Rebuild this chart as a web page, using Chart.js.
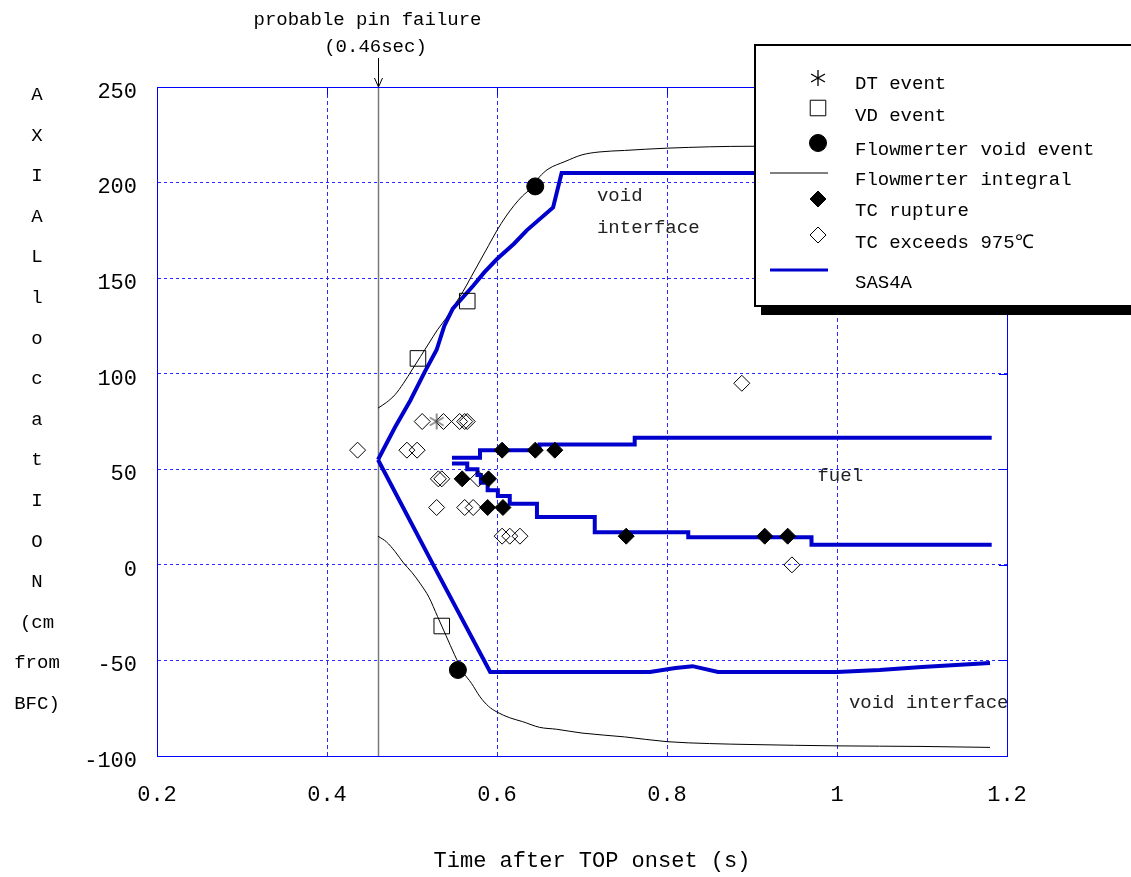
<!DOCTYPE html>
<html>
<head>
<meta charset="utf-8">
<title>Axial location vs time</title>
<script src="https://cdn.jsdelivr.net/npm/chart.js@4.4.0/dist/chart.umd.min.js"></script>
<style>
  html, body { margin: 0; padding: 0; background: #fff; }
  #wrap { width: 1131px; height: 877px; }
</style>
</head>
<body>
<div id="wrap"><canvas id="chart" width="1131" height="877"></canvas></div>
<script>
// Axes
const xTickValues = [0.2, 0.4, 0.6, 0.8, 1.0, 1.2];
const xTickLabels = ["0.2", "0.4", "0.6", "0.8", "1", "1.2"];
const yTickValues = [-100, -50, 0, 50, 100, 150, 200, 250];
const yTickLabels = ["-100", "-50", "0", "50", "100", "150", "200", "250"];

// Probable pin failure time (s)
const pinFailureTime = 0.46;

// Measured events: time (s) and axial location (cm from BFC)
const dtEventT = [0.529];
const dtEventZ = [75];
const vdEventT = [0.507, 0.565, 0.535];
const vdEventZ = [108, 138, -32];
const fmVoidT = [0.645, 0.554];
const fmVoidZ = [198, -55];
const tcRuptureT = [0.606, 0.645, 0.668, 0.559, 0.590, 0.589, 0.607, 0.752, 0.915, 0.942];
const tcRuptureZ = [60, 60, 60, 45, 45, 30, 30, 15, 15, 15];
const tcHotT = [0.436, 0.494, 0.506, 0.512, 0.537, 0.556, 0.562, 0.565,
                0.531, 0.535, 0.578, 0.529, 0.562, 0.572, 0.606, 0.615, 0.627, 0.888, 0.947];
const tcHotZ = [60, 60, 60, 75, 75, 75, 75, 75,
                45, 45, 45, 30, 30, 30, 15, 15, 15, 95, 0];

// Flowmeter integral, upper and lower void fronts
const fmUpperT = [0.46, 0.47, 0.48, 0.49, 0.50, 0.51, 0.52, 0.53, 0.54, 0.55, 0.56, 0.57, 0.58, 0.59,
                  0.60, 0.61, 0.62, 0.63, 0.64, 0.65, 0.66, 0.68, 0.70, 0.72, 0.75, 0.80, 0.90, 1.0, 1.1, 1.18];
const fmUpperZ = [82, 85, 89, 95, 102, 109, 116, 123, 129, 136, 143, 151, 159, 167,
                  175, 182, 188, 193, 197, 203, 207, 211, 214.5, 216, 216.8, 218, 219, 219, 219, 219];
const fmLowerT = [0.46, 0.47, 0.48, 0.49, 0.50, 0.51, 0.52, 0.53, 0.54, 0.55, 0.56, 0.57, 0.58, 0.59,
                  0.60, 0.615, 0.63, 0.65, 0.67, 0.70, 0.75, 0.80, 0.85, 0.90, 1.0, 1.1, 1.18];
const fmLowerZ = [15, 12, 7, 1, -4, -10, -17, -27, -37, -47, -56, -62, -69, -74,
                  -77, -80, -82, -85, -86, -88, -90, -92.5, -93.5, -94, -94.7, -95, -95.5];

// SAS4A calculation: void interfaces and fuel boundaries
const sasUpperT = [0.46, 0.48, 0.498, 0.515, 0.529, 0.538, 0.548, 0.56, 0.572, 0.585, 0.60, 0.62,
                   0.635, 0.666, 0.676, 1.18];
const sasUpperZ = [55, 72, 86, 101, 112.5, 125, 134, 140, 146, 153, 160, 168,
                   175, 187, 205, 205];
const sasLowerT = [0.46, 0.525, 0.592, 0.78, 0.81, 0.83, 0.86, 1.0, 1.05, 1.1, 1.18];
const sasLowerZ = [55, 0, -56, -56, -54, -53, -56, -56, -55, -53.5, -51.3];
const fuelTopT = [0.547, 0.58, 0.58, 0.65, 0.65, 0.762, 0.762, 1.182];
const fuelTopZ = [56, 56, 60, 60, 63, 63, 66.5, 66.5];
const fuelBottomT = [0.547, 0.565, 0.565, 0.577, 0.577, 0.581, 0.581, 0.589, 0.589, 0.601, 0.601,
                     0.615, 0.615, 0.647, 0.647, 0.715, 0.715, 0.825, 0.825, 0.97, 0.97, 1.182];
const fuelBottomZ = [53, 53, 50, 50, 47, 47, 43, 43, 39, 39, 36,
                     36, 32, 32, 25, 25, 17, 17, 14.5, 14.5, 10.5, 10.5];

const sasBlue = "#0000cd";
const gridBlue = "#2a2aff";
const FONT = "'Liberation Mono', 'DejaVu Sans Mono', monospace";

const zip = (t, z) => t.map((v, i) => ({ x: v, y: z[i] }));

// six-spoke asterisk used for the DT event marker
function makeAsterisk(color) {
  const c = document.createElement("canvas");
  c.width = 18; c.height = 18;
  const g = c.getContext("2d");
  g.strokeStyle = color;
  g.lineWidth = 1.3;
  g.beginPath();
  for (let k = 0; k < 3; k++) {
    const a = Math.PI / 2 + k * Math.PI / 3;
    g.moveTo(9 + 8 * Math.cos(a), 9 + 8 * Math.sin(a));
    g.lineTo(9 - 8 * Math.cos(a), 9 - 8 * Math.sin(a));
  }
  g.stroke();
  return c;
}
const asteriskGray = makeAsterisk("#555");
const asteriskBlack = makeAsterisk("#000");

const lineStyle = (color, width) => ({
  showLine: true, pointRadius: 0, pointHoverRadius: 0,
  borderColor: color, borderWidth: width, backgroundColor: color, fill: false, tension: 0
});

const datasets = [
  { label: "DT event", data: zip(dtEventT, dtEventZ), pointStyle: asteriskGray, pointRadius: 9 },
  { label: "VD event", data: zip(vdEventT, vdEventZ), pointStyle: "rect", pointRadius: 11,
    borderColor: "#000", backgroundColor: "rgba(0,0,0,0)", borderWidth: 1 },
  { label: "Flowmerter void event", data: zip(fmVoidT, fmVoidZ), pointStyle: "circle", pointRadius: 8.5,
    borderColor: "#000", backgroundColor: "#000", borderWidth: 1 },
  { label: "TC rupture", data: zip(tcRuptureT, tcRuptureZ), pointStyle: "rectRot", pointRadius: 8,
    borderColor: "#000", backgroundColor: "#000", borderWidth: 1 },
  { label: "TC exceeds 975℃", data: zip(tcHotT, tcHotZ), pointStyle: "rectRot", pointRadius: 8,
    borderColor: "#000", backgroundColor: "rgba(0,0,0,0)", borderWidth: 1 },
  { label: "SAS4A", data: zip(sasUpperT, sasUpperZ), ...lineStyle(sasBlue, 4) },
  { label: "SAS4A lower", data: zip(sasLowerT, sasLowerZ), ...lineStyle(sasBlue, 4) },
  { label: "SAS4A fuel top", data: zip(fuelTopT, fuelTopZ), ...lineStyle(sasBlue, 4) },
  { label: "SAS4A fuel bottom", data: zip(fuelBottomT, fuelBottomZ), ...lineStyle(sasBlue, 4) },
  { label: "Flowmerter integral", data: zip(fmUpperT, fmUpperZ), ...lineStyle("#000", 1),
    cubicInterpolationMode: "monotone" },
  { label: "Flowmerter integral lower", data: zip(fmLowerT, fmLowerZ), ...lineStyle("#000", 1),
    cubicInterpolationMode: "monotone" }
];

// legend rows: label, marker y, text y
const legendRows = [
  ["DT event", 78, 84],
  ["VD event", 108, 116],
  ["Flowmerter void event", 143, 150],
  ["Flowmerter integral", 173, 180],
  ["TC rupture", 199, 211],
  ["TC exceeds 975℃", 235, 243],
  ["SAS4A", 270, 283]
];

const yTitleLines = ["A", "X", "I", "A", "L", "l", "o", "c", "a", "t", "I", "O", "N", "(cm", "from", "BFC)"];

// text placed in data coordinates
const notes = [
  { text: "void", t: 0.7176, z: 193 },
  { text: "interface", t: 0.7176, z: 176 },
  { text: "fuel", t: 0.977, z: 46.5 },
  { text: "void interface", t: 1.014, z: -72 }
];

const decorations = {
  id: "decorations",
  beforeDatasetsDraw(chart) {
    const { ctx, chartArea: a, scales: { x } } = chart;
    const px = Math.round(x.getPixelForValue(pinFailureTime)) + 0.5;
    ctx.save();
    ctx.strokeStyle = "#7a7a7a";
    ctx.lineWidth = 1.5;
    ctx.beginPath();
    ctx.moveTo(px, a.top);
    ctx.lineTo(px, a.bottom);
    ctx.stroke();
    ctx.restore();
  },
  afterDraw(chart) {
    const { ctx, chartArea: a, scales: { x, y } } = chart;
    ctx.save();

    // plot frame and inner ticks on top/right
    ctx.strokeStyle = "#0000ff";
    ctx.lineWidth = 1;
    ctx.strokeRect(a.left + 0.5, a.top + 0.5, a.right - a.left, a.bottom - a.top);
    ctx.beginPath();
    yTickValues.forEach(v => {
      const py = Math.round(y.getPixelForValue(v)) + 0.5;
      ctx.moveTo(a.right - 8, py); ctx.lineTo(a.right, py);
    });
    xTickValues.forEach(v => {
      const px = Math.round(x.getPixelForValue(v)) + 0.5;
      ctx.moveTo(px, a.top); ctx.lineTo(px, a.top + 8);
    });
    ctx.stroke();

    ctx.fillStyle = "#000";
    ctx.font = "19px " + FONT;
    ctx.textBaseline = "middle";

    // pin failure annotation with arrow
    const px = Math.round(x.getPixelForValue(pinFailureTime)) + 0.5;
    ctx.textAlign = "center";
    ctx.fillText("probable pin failure", px - 11, 20);
    ctx.fillText("(0.46sec)", px - 3, 47);
    ctx.strokeStyle = "#000";
    ctx.lineWidth = 1;
    ctx.beginPath();
    ctx.moveTo(px, 58); ctx.lineTo(px, a.top);
    ctx.moveTo(px - 4, a.top - 9); ctx.lineTo(px, a.top); ctx.lineTo(px + 4, a.top - 9);
    ctx.stroke();

    // vertical axis title
    ctx.font = "19px " + FONT;
    yTitleLines.forEach((s, i) => ctx.fillText(s, 37, 95 + i * 40.6));

    // x axis title
    ctx.font = "22px " + FONT;
    ctx.fillText("Time after TOP onset (s)", 592, 861);

    // notes
    ctx.font = "19px " + FONT;
    ctx.textAlign = "left";
    ctx.fillStyle = "#222";
    notes.forEach(n => ctx.fillText(n.text, x.getPixelForValue(n.t), y.getPixelForValue(n.z)));

    // legend box with drop shadow
    ctx.fillStyle = "#000";
    ctx.fillRect(761, 52, 400, 263);
    ctx.fillStyle = "#fff";
    ctx.fillRect(755, 45, 400, 261);
    ctx.strokeStyle = "#000";
    ctx.lineWidth = 2;
    ctx.strokeRect(755, 45, 400, 261);

    legendRows.forEach(([label, my, ty]) => {
      const ds = chart.data.datasets.find(d => d.label === label);
      if (ds.showLine) {
        ctx.strokeStyle = ds.borderColor;
        ctx.lineWidth = ds.borderWidth === 1 ? 1 : 3;
        ctx.beginPath();
        ctx.moveTo(770, my); ctx.lineTo(828, my);
        ctx.stroke();
      } else {
        const style = ds.pointStyle === asteriskGray ? asteriskBlack : ds.pointStyle;
        ctx.fillStyle = ds.backgroundColor || "#000";
        ctx.strokeStyle = ds.borderColor || "#000";
        ctx.lineWidth = 1;
        Chart.helpers.drawPoint(ctx, {
          pointStyle: style, radius: ds.pointRadius, rotation: 0, borderWidth: 1
        }, 818, my);
      }
      ctx.fillStyle = "#000";
      ctx.font = "19px " + FONT;
      ctx.textAlign = "left";
      ctx.fillText(label, 855, ty);
    });

    ctx.restore();
  }
};

new Chart(document.getElementById("chart"), {
  type: "scatter",
  data: { datasets },
  options: {
    responsive: false,
    animation: false,
    devicePixelRatio: 1,
    layout: { padding: { top: 87, right: 124, left: 0, bottom: 0 } },
    plugins: { legend: { display: false }, tooltip: { enabled: false } },
    elements: { point: { hoverRadius: 0 } },
    scales: {
      x: {
        type: "linear", min: 0.2, max: 1.2,
        afterBuildTicks: s => { s.ticks = xTickValues.map(v => ({ value: v })); },
        afterFit: s => { s.height = 121; },
        ticks: {
          callback: (v, i) => xTickLabels[i],
          font: { family: FONT, size: 22 }, color: "#000", padding: 26, maxRotation: 0
        },
        grid: { color: gridBlue, lineWidth: 1, drawTicks: false },
        border: { display: true, color: "#0000ff", dash: [4, 3] }
      },
      y: {
        type: "linear", min: -100, max: 250,
        afterBuildTicks: s => { s.ticks = yTickValues.map(v => ({ value: v })); },
        afterFit: s => { s.width = 157; },
        ticks: {
          callback: (v, i) => yTickLabels[i],
          font: { family: FONT, size: 22 }, color: "#000", padding: 20, labelOffset: 5
        },
        grid: { color: gridBlue, lineWidth: 1, drawTicks: false },
        border: { display: true, color: "#0000ff", dash: [3, 3] }
      }
    }
  },
  plugins: [decorations]
});
</script>
</body>
</html>
